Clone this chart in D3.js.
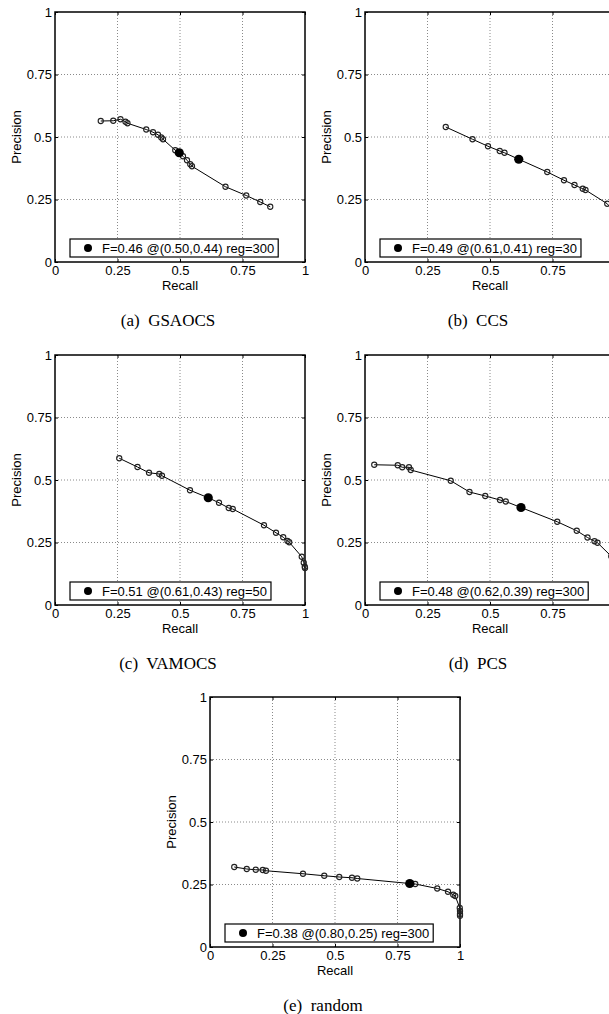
<!DOCTYPE html>
<html lang="en">
<head>
  <meta charset="utf-8">
  <title>Precision / Recall panels</title>
  <script type="text/javascript" src="https://d3js.org/d3.v7.min.js"></script>
  <style>
    body { margin: 0; background: #fff; }
    .tick text { font-family: "Liberation Sans", Arial, sans-serif; font-size: 13px; fill: #000; }
  </style>
</head>
<body>
  <div id="my_dataviz"></div>

  <script type="text/javascript">
    // axis ticks shared by all panels
    var tickValues = [0, 0.25, 0.5, 0.75, 1];
    var tickLabels = ["0", "0.25", "0.5", "0.75", "1"];
    var gridValues = [0.25, 0.5, 0.75];

    // (a) GSAOCS
    var recallA    = [0.183, 0.233, 0.262, 0.282, 0.290, 0.365, 0.392, 0.412, 0.425, 0.432, 0.481, 0.497, 0.512, 0.528, 0.541, 0.548, 0.682, 0.765, 0.821, 0.861];
    var precisionA = [0.564, 0.565, 0.571, 0.561, 0.555, 0.530, 0.519, 0.509, 0.498, 0.491, 0.447, 0.437, 0.423, 0.407, 0.391, 0.383, 0.301, 0.266, 0.240, 0.221];
    var bestA = [0.497, 0.437];
    var legendA = "F=0.46 @(0.50,0.44) reg=300";

    // (b) CCS
    var recallB    = [0.323, 0.430, 0.492, 0.539, 0.558, 0.615, 0.729, 0.796, 0.838, 0.871, 0.882, 0.969, 0.995, 1.0];
    var precisionB = [0.540, 0.491, 0.463, 0.444, 0.437, 0.411, 0.360, 0.327, 0.308, 0.293, 0.288, 0.233, 0.200, 0.160];
    var bestB = [0.615, 0.411];
    var legendB = "F=0.49 @(0.61,0.41) reg=30";

    // (c) VAMOCS
    var recallC    = [0.257, 0.330, 0.376, 0.417, 0.428, 0.540, 0.613, 0.656, 0.695, 0.711, 0.836, 0.884, 0.913, 0.930, 0.937, 0.987, 0.995, 0.999, 1.0];
    var precisionC = [0.587, 0.552, 0.529, 0.524, 0.517, 0.459, 0.429, 0.409, 0.388, 0.384, 0.319, 0.289, 0.271, 0.256, 0.251, 0.193, 0.169, 0.153, 0.148];
    var bestC = [0.613, 0.429];
    var legendC = "F=0.51 @(0.61,0.43) reg=50";

    // (d) PCS
    var recallD    = [0.037, 0.131, 0.149, 0.176, 0.183, 0.343, 0.418, 0.481, 0.540, 0.563, 0.624, 0.769, 0.847, 0.890, 0.918, 0.930, 0.985, 1.0];
    var precisionD = [0.561, 0.559, 0.551, 0.551, 0.540, 0.497, 0.452, 0.436, 0.420, 0.414, 0.390, 0.333, 0.297, 0.270, 0.255, 0.249, 0.195, 0.160];
    var bestD = [0.624, 0.390];
    var legendD = "F=0.48 @(0.62,0.39) reg=300";

    // (e) random
    var recallE    = [0.097, 0.147, 0.183, 0.211, 0.224, 0.372, 0.457, 0.517, 0.568, 0.589, 0.799, 0.821, 0.909, 0.952, 0.973, 0.981, 0.999, 1.0, 1.0, 1.0];
    var precisionE = [0.320, 0.312, 0.309, 0.308, 0.305, 0.293, 0.285, 0.280, 0.277, 0.274, 0.254, 0.252, 0.234, 0.221, 0.209, 0.204, 0.156, 0.144, 0.132, 0.125];
    var bestE = [0.799, 0.254];
    var legendE = "F=0.38 @(0.80,0.25) reg=300";

    var captions = ["(a)  GSAOCS", "(b)  CCS", "(c)  VAMOCS", "(d)  PCS", "(e)  random"];

    // panel placement on the page
    var pageW = 609, pageH = 1014;
    var size = 250;
    var layout = [
      { left: 55,  top: 12,  recall: recallA, precision: precisionA, best: bestA, legend: legendA },
      { left: 365, top: 12,  recall: recallB, precision: precisionB, best: bestB, legend: legendB },
      { left: 55,  top: 355, recall: recallC, precision: precisionC, best: bestC, legend: legendC },
      { left: 365, top: 355, recall: recallD, precision: precisionD, best: bestD, legend: legendD },
      { left: 210, top: 697, recall: recallE, precision: precisionE, best: bestE, legend: legendE }
    ];

    var svg = d3.select("#my_dataviz")
      .append("svg")
      .attr("width", pageW)
      .attr("height", pageH)
      .style("display", "block");

    var sans = '"Liberation Sans", Arial, sans-serif';

    layout.forEach(function (p, k) {
      var x = d3.scaleLinear().domain([0, 1]).range([0, size]);
      var y = d3.scaleLinear().domain([0, 1]).range([size, 0]);

      var g = svg.append("g")
        .attr("transform", "translate(" + p.left + "," + p.top + ")");

      // dotted grid
      g.selectAll(".vgrid").data(gridValues).enter().append("line")
        .attr("x1", function (d) { return x(d); })
        .attr("x2", function (d) { return x(d); })
        .attr("y1", 0).attr("y2", size)
        .attr("stroke", "#8a8a8a").attr("stroke-width", 1)
        .attr("stroke-dasharray", "1,2");
      g.selectAll(".hgrid").data(gridValues).enter().append("line")
        .attr("y1", function (d) { return y(d); })
        .attr("y2", function (d) { return y(d); })
        .attr("x1", 0).attr("x2", size)
        .attr("stroke", "#8a8a8a").attr("stroke-width", 1)
        .attr("stroke-dasharray", "1,2");

      // axes, ticks pointing inward
      var fmt = function (d, i) { return tickLabels[i]; };
      var xAxis = g.append("g").attr("transform", "translate(0," + size + ")")
        .call(d3.axisBottom(x).tickValues(tickValues).tickFormat(fmt).tickSizeInner(-3).tickSizeOuter(0).tickPadding(4));
      var yAxis = g.append("g")
        .call(d3.axisLeft(y).tickValues(tickValues).tickFormat(fmt).tickSizeInner(-3).tickSizeOuter(0).tickPadding(3));
      var tAxis = g.append("g")
        .call(d3.axisTop(x).tickValues(tickValues).tickFormat("").tickSizeInner(-3).tickSizeOuter(0));
      var rAxis = g.append("g").attr("transform", "translate(" + size + ",0)")
        .call(d3.axisRight(y).tickValues(tickValues).tickFormat("").tickSizeInner(-3).tickSizeOuter(0));
      [xAxis, yAxis, tAxis, rAxis].forEach(function (a) {
        a.select(".domain").remove();
        a.selectAll(".tick line").attr("stroke", "#000");
      });
      // the page cuts the right-hand panels, so their last x label is not shown
      xAxis.selectAll(".tick text")
        .filter(function (d) { return p.left + x(d) + 3 > pageW; })
        .remove();

      // box
      g.append("rect")
        .attr("x", 0).attr("y", 0).attr("width", size).attr("height", size)
        .attr("fill", "none").attr("stroke", "#000").attr("stroke-width", 1.5);

      // axis titles
      g.append("text")
        .attr("x", size / 2).attr("y", size + 28)
        .attr("text-anchor", "middle")
        .attr("font-family", sans).attr("font-size", "13px")
        .text("Recall");
      g.append("text")
        .attr("transform", "translate(-34," + (size / 2) + ") rotate(-90)")
        .attr("text-anchor", "middle")
        .attr("font-family", sans).attr("font-size", "13px")
        .text("Precision");

      // curve
      var pts = p.recall.map(function (r, i) { return [r, p.precision[i]]; });
      var line = d3.line()
        .x(function (d) { return x(d[0]); })
        .y(function (d) { return y(d[1]); });
      g.append("path")
        .datum(pts)
        .attr("d", line)
        .attr("fill", "none")
        .attr("stroke", "#000")
        .attr("stroke-width", 1);
      g.selectAll(".pt").data(pts).enter().append("circle")
        .attr("cx", function (d) { return x(d[0]); })
        .attr("cy", function (d) { return y(d[1]); })
        .attr("r", 2.6)
        .attr("fill", "none")
        .attr("stroke", "#222")
        .attr("stroke-width", 1.1);

      // best F point
      g.append("circle")
        .attr("cx", x(p.best[0])).attr("cy", y(p.best[1]))
        .attr("r", 4.6).attr("fill", "#000");

      // legend box
      var leg = g.append("g").attr("transform", "translate(15," + (size - 23) + ")");
      var legRect = leg.append("rect")
        .attr("x", 0).attr("y", 0).attr("height", 18)
        .attr("fill", "#fff").attr("stroke", "#000").attr("stroke-width", 1.2);
      leg.append("circle").attr("cx", 18).attr("cy", 9).attr("r", 4).attr("fill", "#000");
      var legText = leg.append("text")
        .attr("x", 32).attr("y", 13.5)
        .attr("font-family", sans).attr("font-size", "13px")
        .text(p.legend);
      legRect.attr("width", 32 + legText.node().getComputedTextLength() + 4);

      // caption under the panel
      svg.append("text")
        .attr("x", p.left + size / 2 - 12)
        .attr("y", p.top + size + 64)
        .attr("text-anchor", "middle")
        .attr("font-family", '"Liberation Serif", "Times New Roman", serif')
        .attr("font-size", "17px")
        .style("white-space", "pre")
        .text(captions[k]);
    });
  </script>
</body>
</html>
